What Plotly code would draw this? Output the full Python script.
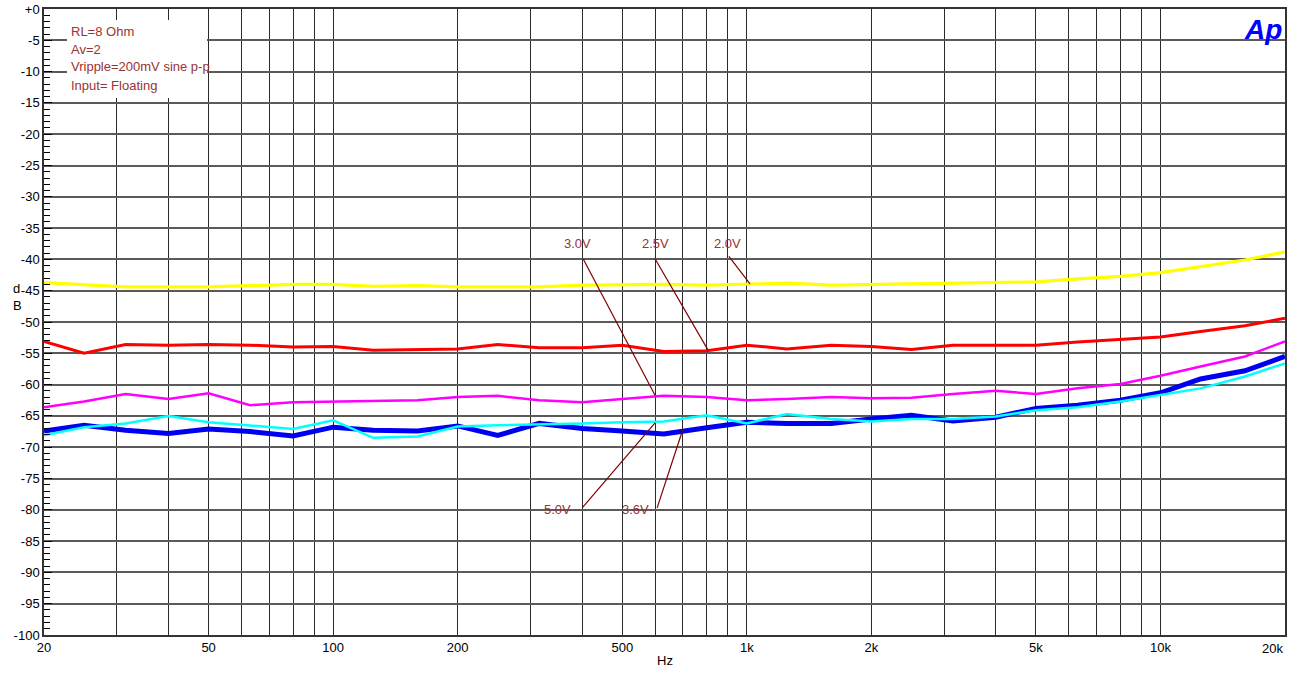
import math
import plotly.graph_objects as go

# ---- data ----
freqs = [20, 25, 31.5, 40, 50, 63, 80, 100, 125, 160, 200, 250, 315, 400, 500, 630,
         800, 1000, 1250, 1600, 2000, 2500, 3150, 4000, 5000, 6300, 8000, 10000,
         12500, 16000, 20000]

psrr_2v0 = [-43.7, -44.0, -44.4, -44.4, -44.4, -44.2, -44.0, -44.0, -44.3, -44.2, -44.4,
            -44.4, -44.4, -44.1, -44.0, -44.0, -44.1, -44.0, -43.8, -44.1, -44.0, -44.0,
            -43.8, -43.8, -43.6, -43.1, -42.7, -42.1, -41.2, -40.1, -38.8]
psrr_2v5 = [-53.1, -55.0, -53.6, -53.7, -53.6, -53.7, -54.0, -53.9, -54.5, -54.4, -54.3,
            -53.6, -54.1, -54.1, -53.7, -54.7, -54.6, -53.7, -54.3, -53.7, -53.9, -54.4,
            -53.7, -53.7, -53.7, -53.2, -52.8, -52.4, -51.5, -50.6, -49.4]
psrr_3v0 = [-63.6, -62.7, -61.5, -62.3, -61.4, -63.3, -62.8, -62.7, -62.7, -62.5, -62.0,
            -61.8, -62.5, -62.8, -62.3, -61.8, -62.0, -62.5, -62.3, -62.0, -62.2, -62.1,
            -61.5, -61.0, -61.5, -60.6, -59.9, -58.6, -57.1, -55.5, -53.1]
psrr_3v6 = [-67.4, -66.5, -67.3, -67.8, -67.1, -67.5, -68.2, -66.8, -67.3, -67.4, -66.6,
            -68.1, -66.2, -67.0, -67.4, -67.9, -66.9, -66.0, -66.2, -66.2, -65.5, -64.9,
            -65.8, -65.2, -63.8, -63.3, -62.5, -61.3, -59.1, -57.8, -55.5]
psrr_5v0 = [-68.1, -66.8, -66.2, -65.0, -66.0, -66.5, -67.1, -65.7, -68.5, -68.3, -66.7,
            -66.5, -66.4, -66.2, -66.0, -65.9, -64.9, -66.2, -64.7, -65.5, -65.9, -65.5,
            -65.5, -65.1, -64.1, -63.6, -62.7, -61.7, -60.6, -58.7, -56.6]

x_grid_vals = [20, 30, 40, 50, 60, 70, 80, 90, 100, 200, 300, 400, 500, 600, 700, 800,
               900, 1000, 2000, 3000, 4000, 5000, 6000, 7000, 8000, 9000, 10000, 20000]
x_tick_text = {20: "20", 50: "50", 100: "100", 200: "200", 500: "500", 1000: "1k",
               2000: "2k", 5000: "5k", 10000: "10k"}
x_last_label = "20k"
y_tick_vals = list(range(-100, 1, 5))
y_tick_text = ["+0" if v == 0 else str(v) for v in y_tick_vals]

info_lines = ["RL=8 Ohm", "Av=2", "Vripple=200mV sine p-p", "Input= Floating"]

ann_labels = ["3.0V", "2.5V", "2.0V", "5.0V", "3.6V"]
ann_label_f = [389, 600, 896, 348, 537]
ann_label_db = [-37.4, -37.4, -37.4, -80.0, -80.0]
lead_start_f = [402, 600, 905, 400, 607]
lead_start_db = [-39.9, -39.9, -39.5, -79.7, -79.7]
lead_end_f = [600, 806, 1018, 600, 701]
lead_end_db = [-61.7, -54.5, -43.9, -66.1, -67.1]

# ---- figure ----
fig = go.Figure()
series = [
    (psrr_2v0, "#FFFF00", 3.2),
    (psrr_2v5, "#FF0000", 3),
    (psrr_3v0, "#FF00FF", 2.5),
    (psrr_3v6, "#0000F0", 5),
    (psrr_5v0, "#00FFFF", 2.5),
]
for vals, col, w in series:
    fig.add_trace(go.Scatter(x=freqs, y=vals, mode="lines",
                             line=dict(color=col, width=w), hoverinfo="skip"))

for i in range(len(ann_labels)):
    fig.add_trace(go.Scatter(x=[lead_start_f[i], lead_end_f[i]],
                             y=[lead_start_db[i], lead_end_db[i]], mode="lines",
                             line=dict(color="#800000", width=1.2), hoverinfo="skip"))

text_col = "#993333"
fs = 13
annotations = []
for i, t in enumerate(ann_labels):
    annotations.append(dict(x=math.log10(ann_label_f[i]), y=ann_label_db[i], xref="x", yref="y",
                            text=t, showarrow=False,
                            font=dict(size=fs, color=text_col)))

# info box text lines
line_y_px = [31, 49, 67, 85]
for t, ypx in zip(info_lines, line_y_px):
    annotations.append(dict(x=(69 - 44) / 1241, y=(635 - ypx) / 626, xref="paper", yref="paper",
                            text=t, showarrow=False, xanchor="left", yanchor="middle",
                            font=dict(size=fs, color=text_col)))

annotations += [
    dict(x=1.0, y=(635 - 648) / 626, xref="paper", yref="paper", text=x_last_label,
         showarrow=False, xanchor="right", yanchor="middle",
         font=dict(size=fs, color="black")),
    dict(x=0.5, y=(635 - 670) / 626, xref="paper", yref="paper", text="Hz",
         showarrow=False, font=dict(size=fs, color="black")),
    dict(x=(11 - 44) / 1241, y=(635 - 288) / 626, xref="paper", yref="paper", text="d",
         showarrow=False, font=dict(size=fs, color="black")),
    dict(x=(11 - 44) / 1241, y=(635 - 305) / 626, xref="paper", yref="paper", text="B",
         showarrow=False, font=dict(size=fs, color="black")),
    dict(x=(1284 - 44) / 1241, y=(635 - 12) / 626, xref="paper", yref="paper",
         text="<b><i>Ap</i></b>", showarrow=False, xanchor="right", yanchor="top",
         font=dict(size=28, color="#0000FF", family="Liberation Sans, Arial")),
]

fig.update_layout(
    width=1295, height=682,
    margin=dict(l=44, r=10, t=9, b=47, autoexpand=False),
    plot_bgcolor="white", paper_bgcolor="white",
    showlegend=False,
    font=dict(family="Liberation Sans, Arial, sans-serif", size=fs, color="black"),
    annotations=annotations,
    shapes=[dict(type="rect", xref="paper", yref="paper",
                 x0=(67 - 44) / 1241, x1=(207 - 44) / 1241,
                 y0=(635 - 98) / 626, y1=(635 - 20) / 626,
                 fillcolor="white", line=dict(width=0), layer="above")],
)

fig.update_xaxes(
    type="log", range=[math.log10(20), math.log10(20000)],
    tickvals=x_grid_vals,
    ticktext=[x_tick_text.get(v, "") for v in x_grid_vals],
    ticks="", showgrid=True, gridcolor="#2a2a2a", gridwidth=1,
    showline=True, linecolor="#333333", linewidth=1.5, mirror=True,
    zeroline=False, tickfont=dict(size=fs, color="black"), automargin=False,
)
fig.update_yaxes(
    range=[-100, 0], tickvals=y_tick_vals, ticktext=y_tick_text,
    ticks="inside", ticklen=8, tickcolor="black",
    minor=dict(dtick=1, ticks="inside", ticklen=6, tickcolor="black", showgrid=False),
    showgrid=True, gridcolor="#5a5a5a", gridwidth=1.5,
    showline=True, linecolor="#333333", linewidth=1.5, mirror=True,
    zeroline=False, tickfont=dict(size=fs, color="black"), automargin=False,
)

fig.write_html("out.html", config={"displayModeBar": False},
               post_script="document.body.style.margin='0px';document.body.style.overflow='hidden';")
